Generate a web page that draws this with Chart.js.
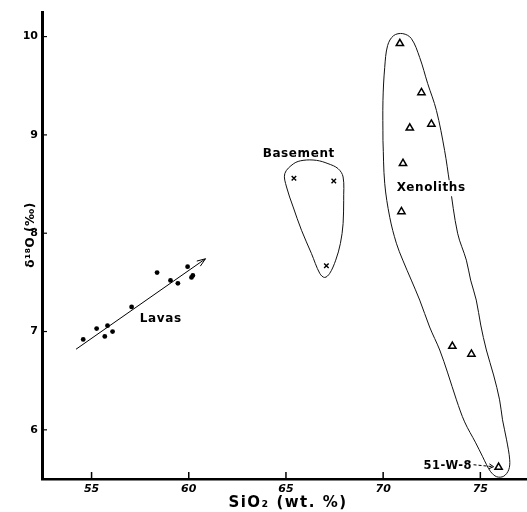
<!DOCTYPE html>
<html>
<head>
<meta charset="utf-8">
<script src="https://cdn.jsdelivr.net/npm/chart.js@4.4.1/dist/chart.umd.min.js"></script>
<style>
  html, body { margin: 0; padding: 0; background: #fff; }
  #wrap { width: 527px; height: 512px; }
</style>
</head>
<body>
<div id="wrap"><canvas id="plot" width="527" height="512"></canvas></div>
<script>
// SiO2 vs delta-18O: lavas, basement rocks and xenoliths
const xTicks = [55, 60, 65, 70, 75];
const yTicks = [6, 7, 8, 9, 10];

const lavaSiO2 = [54.57, 55.26, 55.68, 55.82, 56.08, 57.06, 58.37, 59.06, 59.44, 59.94, 60.14, 60.21];
const lavaD18O = [6.92, 7.03, 6.95, 7.06, 7.00, 7.25, 7.60, 7.52, 7.49, 7.66, 7.55, 7.57];

const basementSiO2 = [65.41, 67.46, 67.08];
const basementD18O = [8.56, 8.53, 7.67];

const xenoSiO2 = [70.86, 71.97, 71.37, 72.48, 71.02, 70.94, 73.56, 74.54, 75.94];
const xenoD18O = [9.93, 9.43, 9.07, 9.11, 8.71, 8.22, 6.85, 6.77, 5.62];

// trend line through the lavas (arrow at the end)
const lavaTrendSiO2 = [54.2, 60.86];
const lavaTrendD18O = [6.82, 7.74];

// hand-drawn field outlines, closed loops
const basementFieldSiO2 = [67.97, 67.94, 67.80, 67.56, 67.25, 66.99, 66.74, 66.31, 65.80, 65.37, 65.03, 64.94,
  65.40, 65.88, 66.57, 67.16, 67.68, 67.94, 67.97];
const basementFieldD18O = [8.335, 8.098, 7.895, 7.726, 7.591, 7.550, 7.591, 7.794, 8.030, 8.267, 8.470, 8.606,
  8.708, 8.741, 8.741, 8.708, 8.657, 8.572, 8.335];

const xenoFieldSiO2 = [69.99, 70.08, 70.34, 70.68, 71.01, 71.88, 72.39, 72.91, 73.32, 73.77, 74.19, 74.76, 75.12,
  75.32, 75.53, 75.84, 76.20, 76.46, 76.51, 76.35, 76.14, 75.99, 75.68, 75.31, 75.02, 74.79, 74.50, 74.28,
  73.83, 73.42, 73.16, 72.74, 72.29, 71.88, 71.45, 71.01, 70.54, 70.23, 70.08, 69.99, 69.99];
const xenoFieldD18O = [8.944, 8.508, 8.162, 7.898, 7.726, 7.320, 7.046, 6.812, 6.579, 6.305, 6.081, 5.868, 5.726,
  5.645, 5.574, 5.523, 5.528, 5.594, 5.695, 5.898, 6.102, 6.305, 6.558, 6.812, 7.066, 7.320, 7.523, 7.726,
  8.000, 8.508, 8.843, 9.249, 9.523, 9.787, 9.980, 10.030, 10.010, 9.909, 9.685, 9.350, 8.944];

const zip = (xs, ys) => xs.map((x, i) => ({ x, y: ys[i] }));

const HAND_FONT = 'DejaVu Sans';

// text placed on the plot, in data units
const plotLabels = [
  { text: 'Basement', x: 65.66, y: 8.812, align: 'center', size: 12 },
  { text: 'Xenoliths', x: 72.47, y: 8.457, align: 'center', size: 12, knockout: true },
  { text: 'Lavas', x: 58.56, y: 7.127, align: 'center', size: 12 },
  { text: '51-W-8', x: 74.58, y: 5.63, align: 'right', size: 11.5 }
];
// dashed pointer from the 51-W-8 label to its sample
const pointerFrom = { x: 74.65, y: 5.645 };
const pointerTo = { x: 75.68, y: 5.625 };

const xTitle = 'SiO₂ (wt. %)';
const yTitle = 'δ¹⁸O (‰)';

function arrowHead(ctx, x0, y0, x1, y1, len, spread) {
  const a = Math.atan2(y1 - y0, x1 - x0);
  ctx.beginPath();
  ctx.moveTo(x1 - len * Math.cos(a - spread), y1 - len * Math.sin(a - spread));
  ctx.lineTo(x1, y1);
  ctx.lineTo(x1 - len * Math.cos(a + spread), y1 - len * Math.sin(a + spread));
  ctx.stroke();
}

const inwardTicks = {
  id: 'inwardTicks',
  afterDraw(chart) {
    const { ctx, chartArea } = chart;
    const { x, y } = chart.scales;
    ctx.save();
    ctx.strokeStyle = '#000';
    ctx.lineWidth = 1.5;
    x.ticks.forEach(t => {
      const px = x.getPixelForValue(t.value);
      ctx.beginPath();
      ctx.moveTo(px, chartArea.bottom);
      ctx.lineTo(px, chartArea.bottom - 7);
      ctx.stroke();
    });
    ctx.lineWidth = 1.2;
    y.ticks.forEach(t => {
      const py = y.getPixelForValue(t.value);
      ctx.beginPath();
      ctx.moveTo(chartArea.left, py);
      ctx.lineTo(chartArea.left + 5, py);
      ctx.stroke();
    });

    // axis titles
    ctx.fillStyle = '#000';
    ctx.textAlign = 'center';
    ctx.textBaseline = 'middle';
    ctx.letterSpacing = '1.5px';
    ctx.font = `bold 15px "${HAND_FONT}"`;
    ctx.fillText(xTitle, 288, 503);
    ctx.letterSpacing = '0.5px';
    ctx.font = `bold 12px "${HAND_FONT}"`;
    ctx.translate(31, 235);
    ctx.rotate(-Math.PI / 2);
    ctx.fillText(yTitle, 0, 0);
    ctx.restore();
  }
};

const annotations = {
  id: 'annotations',
  afterDatasetsDraw(chart) {
    const { ctx } = chart;
    const { x, y } = chart.scales;
    ctx.save();
    ctx.strokeStyle = '#000';
    ctx.fillStyle = '#000';

    // arrow on the lava trend
    const trend = chart.getDatasetMeta(2).data;
    const p0 = trend[trend.length - 2], p1 = trend[trend.length - 1];
    ctx.lineWidth = 1;
    arrowHead(ctx, p0.x, p0.y, p1.x, p1.y, 9, 0.35);

    // labels
    ctx.textBaseline = 'middle';
    ctx.letterSpacing = '0.6px';
    plotLabels.forEach(l => {
      ctx.font = `bold ${l.size}px "${HAND_FONT}"`;
      ctx.textAlign = l.align;
      const px = x.getPixelForValue(l.x), py = y.getPixelForValue(l.y);
      if (l.knockout) {
        const w = ctx.measureText(l.text).width;
        ctx.fillStyle = '#fff';
        ctx.fillRect(px - w / 2 - 2, py - l.size / 2 - 2, w + 4, l.size + 4);
        ctx.fillStyle = '#000';
      }
      ctx.fillText(l.text, px, py);
    });

    // pointer to 51-W-8
    const fx = x.getPixelForValue(pointerFrom.x), fy = y.getPixelForValue(pointerFrom.y);
    const tx = x.getPixelForValue(pointerTo.x), ty = y.getPixelForValue(pointerTo.y);
    ctx.lineWidth = 1;
    ctx.setLineDash([3, 2]);
    ctx.beginPath();
    ctx.moveTo(fx, fy);
    ctx.lineTo(tx, ty);
    ctx.stroke();
    ctx.setLineDash([]);
    arrowHead(ctx, fx, fy, tx, ty, 5, 0.5);
    ctx.restore();
  }
};

const tickFont = { family: HAND_FONT, size: 11, weight: 'bold' };

new Chart(document.getElementById('plot').getContext('2d'), {
  type: 'scatter',
  data: {
    datasets: [
      {
        label: 'Xenolith field',
        data: zip(xenoFieldSiO2, xenoFieldD18O),
        showLine: true, tension: 0.35, fill: false,
        borderColor: '#111', borderWidth: 1, pointRadius: 0
      },
      {
        label: 'Basement field',
        data: zip(basementFieldSiO2, basementFieldD18O),
        showLine: true, tension: 0.35, fill: false,
        borderColor: '#111', borderWidth: 1, pointRadius: 0
      },
      {
        label: 'Lava trend',
        data: zip(lavaTrendSiO2, lavaTrendD18O),
        showLine: true, tension: 0, fill: false,
        borderColor: '#000', borderWidth: 1, pointRadius: 0
      },
      {
        label: 'Lavas',
        data: zip(lavaSiO2, lavaD18O),
        pointStyle: 'circle', pointRadius: 2.4,
        backgroundColor: '#000', borderWidth: 0
      },
      {
        label: 'Basement',
        data: zip(basementSiO2, basementD18O),
        pointStyle: 'crossRot', pointRadius: 3.2,
        borderColor: '#000', borderWidth: 1.4
      },
      {
        label: 'Xenoliths',
        data: zip(xenoSiO2, xenoD18O),
        pointStyle: 'triangle', pointRadius: 4.2,
        backgroundColor: '#fff', borderColor: '#000', borderWidth: 1.5
      },
      {
        label: 'Xenolith dots',
        data: zip(xenoSiO2, xenoD18O),
        pointStyle: 'circle', pointRadius: 1.1,
        backgroundColor: '#000', borderWidth: 0
      }
    ]
  },
  options: {
    responsive: false,
    animation: false,
    events: [],
    layout: { autoPadding: false, padding: { top: 12, right: 0, bottom: 0, left: 0 } },
    plugins: {
      legend: { display: false },
      tooltip: { enabled: false }
    },
    scales: {
      x: {
        type: 'linear',
        min: 52.45,
        max: 77.4,
        afterBuildTicks: s => { s.ticks = xTicks.map(v => ({ value: v })); },
        afterFit: s => { s.height = 33; s.paddingLeft = 0; s.paddingRight = 0; },
        grid: { display: false, drawTicks: false },
        border: { display: true, color: '#000', width: 2.5 },
        ticks: {
          color: '#000', padding: 4, maxRotation: 0,
          font: { ...tickFont, style: 'italic' }
        },
        title: { display: false }
      },
      y: {
        type: 'linear',
        min: 5.5,
        max: 10.25,
        afterBuildTicks: s => { s.ticks = yTicks.map(v => ({ value: v })); },
        afterFit: s => { s.width = 42; },
        grid: { display: false, drawTicks: false },
        border: { display: true, color: '#000', width: 3 },
        ticks: { color: '#000', padding: 4, font: tickFont },
        title: { display: false }
      }
    }
  },
  plugins: [inwardTicks, annotations]
});
</script>
</body>
</html>
